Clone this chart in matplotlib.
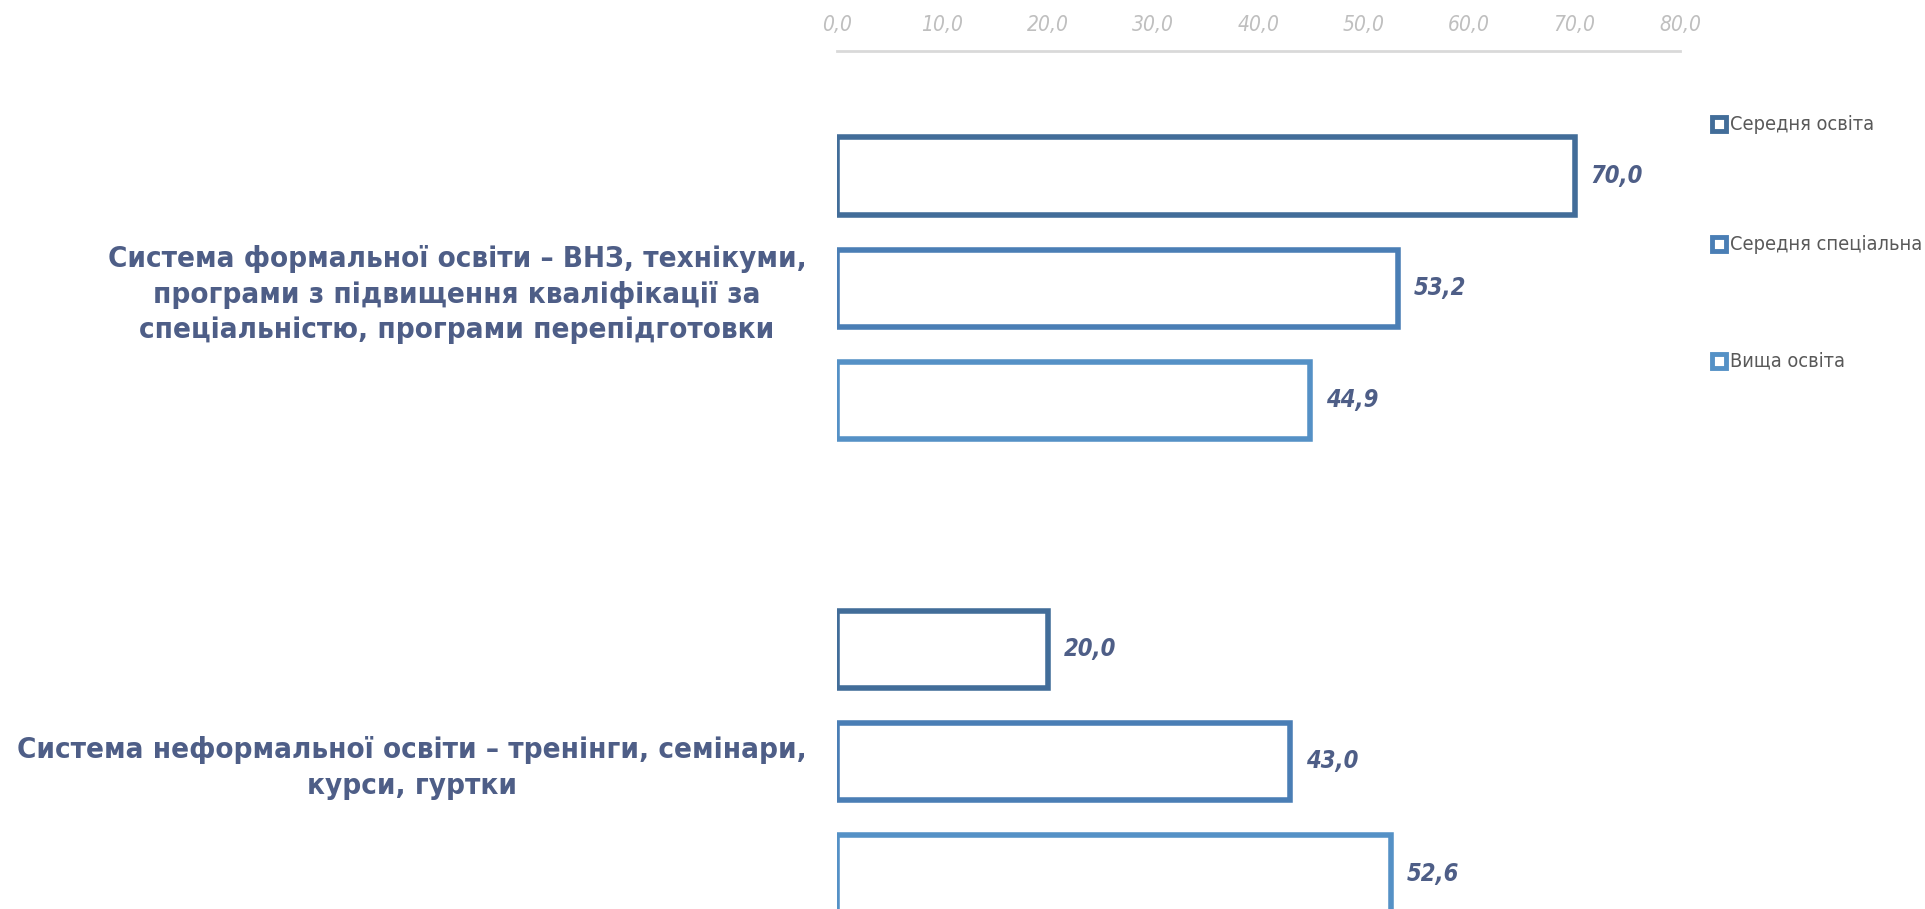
import matplotlib.pyplot as plt
from matplotlib.patches import Rectangle

FAM = "DejaVu Sans"
STRETCH = "condensed"

categories = [
    "Система формальної освіти – ВНЗ, технікуми,\nпрограми з підвищення кваліфікації за\nспеціальністю, програми перепідготовки",
    "Система неформальної освіти – тренінги, семінари,\nкурси, гуртки",
]
series = ["Середня освіта", "Середня спеціальна", "Вища освіта"]
values = {
    "Середня освіта": [70.0, 20.0],
    "Середня спеціальна": [53.2, 43.0],
    "Вища освіта": [44.9, 52.6],
}
ticks = [0, 10, 20, 30, 40, 50, 60, 70, 80]

colors = ["#426D99", "#4A7EB5", "#5591C6"]
TEXT_C = "#4E5E87"
TICK_C = "#BFBFBF"

fig = plt.figure(figsize=(19.25, 9.09), dpi=100)
# plot area runs past the bottom edge, like the cropped original
ax = fig.add_axes([837 / 1925, 1 - 998 / 909, (1680 - 837) / 1925, (998 - 51.5) / 909])

offsets = [-0.237, 0.0, 0.237]
h = 0.163
for s, name in enumerate(series):
    for i, v in enumerate(values[name]):
        y = i + offsets[s]
        ax.add_patch(Rectangle((0, y - h / 2), v, h, facecolor="white",
                               edgecolor=colors[s], lw=4, joinstyle="miter"))
        ax.text(v + 1.5, y, f"{v:.1f}".replace(".", ","), ha="left", va="center",
                fontsize=17, fontweight="bold", style="italic", color=TEXT_C,
                family=FAM, stretch=STRETCH)

ax.set_xlim(0, 80)
ax.set_ylim(1.5, -0.5)
ax.xaxis.tick_top()
ax.set_xticks(ticks)
ax.set_xticklabels([f"{t:.1f}".replace(".", ",") for t in ticks], family=FAM,
                   stretch=STRETCH, style="italic", color=TICK_C, fontsize=15)
ax.tick_params(axis="x", length=0, pad=12)
ax.set_yticks([0, 1])
ax.set_yticklabels(categories, family=FAM, stretch=STRETCH, fontweight="bold",
                   color=TEXT_C, fontsize=21.2, multialignment="center",
                   linespacing=1.33)
ax.tick_params(axis="y", length=0, pad=22)
for side in ("right", "bottom", "left"):
    ax.spines[side].set_visible(False)
ax.spines["top"].set_color("#D9D9D9")
ax.spines["top"].set_linewidth(2)

# legend: small squares with white centres, text to the right
leg_y = [124, 244, 361]
for s, name in enumerate(series):
    yf = 1 - leg_y[s] / 909
    fig.patches.append(Rectangle((1712 / 1925, yf - 7 / 909), 14 / 1925, 14 / 909,
                                 transform=fig.transFigure, facecolor="white",
                                 edgecolor=colors[s], lw=3.5))
    fig.text(1730 / 1925, yf, name, ha="left", va="center", fontsize=14.3,
             color="#595959", family=FAM, stretch=STRETCH)

fig.savefig("out.png", dpi=100)
